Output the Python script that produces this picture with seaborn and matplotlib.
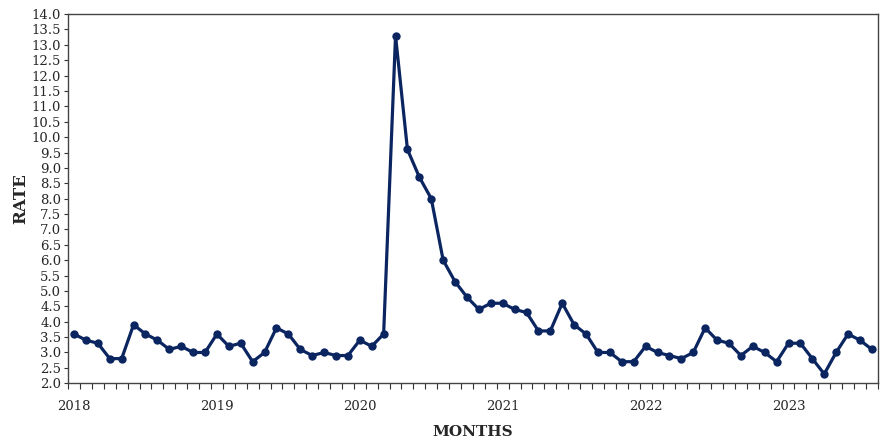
import numpy as np
import pandas as pd
import matplotlib
matplotlib.use("Agg")
import matplotlib.pyplot as plt
import seaborn as sns

# === DATA (monthly, Jan 2018 - Aug 2023) ===
years = ["2018", "2019", "2020", "2021", "2022", "2023"]
rate_2018 = [3.6, 3.4, 3.3, 2.8, 2.8, 3.9, 3.6, 3.4, 3.1, 3.2, 3.0, 3.0]
rate_2019 = [3.6, 3.2, 3.3, 2.7, 3.0, 3.8, 3.6, 3.1, 2.9, 3.0, 2.9, 2.9]
rate_2020 = [3.4, 3.2, 3.6, 13.3, 9.6, 8.7, 8.0, 6.0, 5.3, 4.8, 4.4, 4.6]
rate_2021 = [4.6, 4.4, 4.3, 3.7, 3.7, 4.6, 3.9, 3.6, 3.0, 3.0, 2.7, 2.7]
rate_2022 = [3.2, 3.0, 2.9, 2.8, 3.0, 3.8, 3.4, 3.3, 2.9, 3.2, 3.0, 2.7]
rate_2023 = [3.3, 3.3, 2.8, 2.3, 3.0, 3.6, 3.4, 3.1]

rates = rate_2018 + rate_2019 + rate_2020 + rate_2021 + rate_2022 + rate_2023
df = pd.DataFrame({"month": np.arange(len(rates)), "rate": rates})

NAVY = "#0b2561"

sns.set_style("ticks")
plt.rcParams['font.family'] = ['DejaVu Serif']

fig, ax = plt.subplots(figsize=(8.84, 4.41), dpi=100)
fig.subplots_adjust(left=0.077, right=0.993, bottom=0.131, top=0.968)

sns.lineplot(data=df, x="month", y="rate", ax=ax, color=NAVY, linewidth=2.3,
             marker="o", markersize=6, markeredgecolor=NAVY, markeredgewidth=0)

n = len(rates)
ax.set_xlim(-0.5, n - 0.5)
ax.set_ylim(2.0, 14.0)
ax.set_yticks(np.arange(2.0, 14.01, 0.5))
ax.set_yticklabels([f"{v:.1f}" for v in np.arange(2.0, 14.01, 0.5)], fontsize=9.5)

# year labels at each January, monthly boundary ticks
ax.set_xticks(np.arange(0, n, 12))
ax.set_xticklabels(years, fontsize=9.5)
ax.set_xticks(np.arange(-0.5, n, 1), minor=True)
ax.tick_params(axis="x", which="major", length=0, pad=12)
ax.tick_params(axis="x", which="minor", length=4, width=0.8, color="#333333")
ax.tick_params(axis="y", length=3, width=0.8, color="#333333", pad=2)

for s in ax.spines.values():
    s.set_visible(True)
    s.set_color("#444444")
    s.set_linewidth(1.0)

ax.set_xlabel("MONTHS", fontsize=11, fontweight="bold", labelpad=9)
ax.set_ylabel("RATE", fontsize=12, fontweight="bold", labelpad=2)

fig.savefig("out.png", dpi=100)
